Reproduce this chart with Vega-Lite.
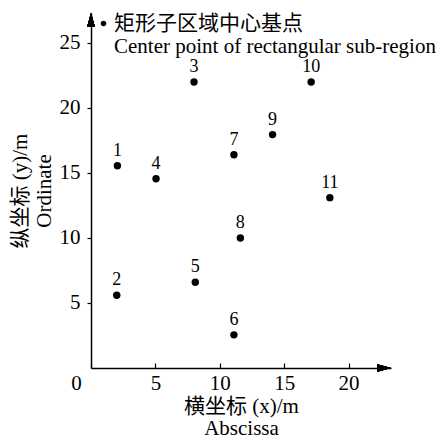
{
  "$schema": "https://vega.github.io/schema/vega-lite/v6.json",
  "width": 300,
  "height": 355,
  "autosize": "none",
  "padding": {"left": 91, "top": 13, "right": 51, "bottom": 78},
  "background": "white",
  "config": {"view": {"stroke": null}, "font": "Liberation Serif, Noto Sans CJK SC"},
  "data": {"values": [
    {"id": "1", "x": 2.05, "y": 15.55},
    {"id": "2", "x": 2.0, "y": 5.6},
    {"id": "3", "x": 8.0, "y": 22.0},
    {"id": "4", "x": 5.05, "y": 14.55},
    {"id": "5", "x": 8.1, "y": 6.6},
    {"id": "6", "x": 11.1, "y": 2.55},
    {"id": "7", "x": 11.1, "y": 16.4},
    {"id": "8", "x": 11.6, "y": 10.0},
    {"id": "9", "x": 14.1, "y": 17.95},
    {"id": "10", "x": 17.1, "y": 22.0},
    {"id": "11", "x": 18.55, "y": 13.1}
  ]},
  "layer": [
    {
      "mark": {"type": "point", "filled": true, "size": 55, "opacity": 1},
      "encoding": {
        "x": {"field": "x", "type": "quantitative",
          "scale": {"domain": [0, 23.3], "nice": false, "zero": false},
          "axis": {"values": [0, 5, 10, 15, 20], "title": ["横坐标 (x)/m", "Abscissa"], "grid": false,
            "domainColor": "black", "domainWidth": 1.5, "tickColor": "black", "tickSize": -5, "tickWidth": 1.2,
            "labelFontSize": 21, "labelFont": "Liberation Serif", "labelColor": "black", "labelPadding": 9,
            "labelFlush": false,
            "labelOffset": {"condition": {"test": "datum.value == 0", "value": -15}, "value": 0},
            "titleFontSize": 21, "titleFontWeight": "normal", "titleFont": "Liberation Serif, Noto Sans CJK SC",
            "titleColor": "black", "titleLineHeight": 22, "titlePadding": 2}},
        "y": {"field": "y", "type": "quantitative",
          "scale": {"domain": [0, 27.3], "nice": false, "zero": false},
          "axis": {"values": [5, 10, 15, 20, 25], "title": ["纵坐标 (y)/m", "Ordinate"], "grid": false,
            "domainColor": "black", "domainWidth": 1.5, "tickColor": "black", "tickSize": 4, "tickWidth": 1.2,
            "labelFontSize": 21, "labelFont": "Liberation Serif", "labelColor": "black", "labelPadding": 7,
            "titleFontSize": 21, "titleFontWeight": "normal", "titleFont": "Liberation Serif, Noto Sans CJK SC",
            "titleColor": "black", "titleLineHeight": 24, "titlePadding": 5}},
        "color": {"datum": "矩形子区域中心基点", "scale": {"range": ["black"]},
          "legend": {"orient": "none", "legendX": 2, "legendY": 0, "title": null, "symbolType": "circle",
            "symbolSize": 30, "symbolFillColor": "black", "symbolStrokeWidth": 0,
            "labelExpr": "['矩形子区域中心基点', 'Center point of rectangular sub-region']",
            "labelFontSize": 21, "labelLimit": 0, "labelOffset": 0, "labelLineHeight": 20,
            "labelFont": "Liberation Serif, Noto Sans CJK SC", "labelColor": "black", "padding": 0,
            "labelBaseline": "middle"}}
      }
    },
    {
      "mark": {"type": "text", "dy": -15, "fontSize": 18, "font": "Liberation Serif", "color": "black"},
      "encoding": {
        "x": {"field": "x", "type": "quantitative"},
        "y": {"field": "y", "type": "quantitative"},
        "text": {"field": "id"}
      }
    },
    {
      "mark": {"type": "point", "shape": "M-4,-1.1L0,0L-4,1.1Z", "filled": true, "size": 49, "color": "black", "opacity": 1},
      "encoding": {"x": {"datum": 23.3}, "y": {"datum": 0}}
    },
    {
      "mark": {"type": "point", "shape": "M-1.1,4L0,0L1.1,4Z", "filled": true, "size": 49, "color": "black", "opacity": 1},
      "encoding": {"x": {"datum": 0}, "y": {"datum": 27.3}}
    }
  ]
}
